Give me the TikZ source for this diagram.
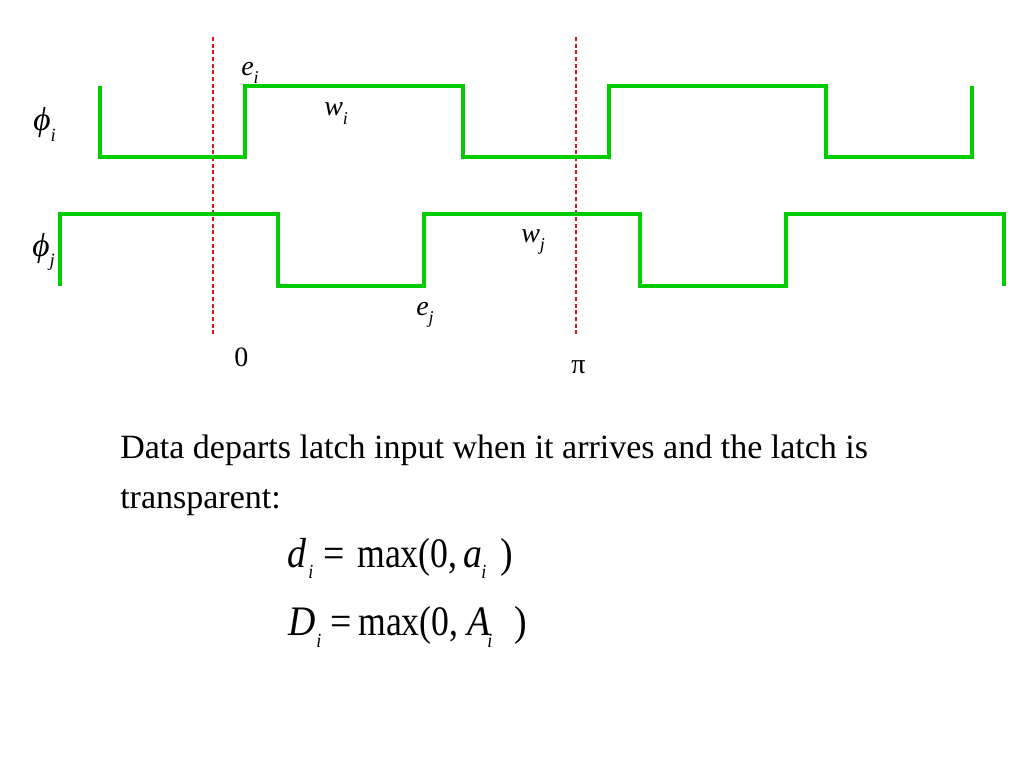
\documentclass[tikz,border=0pt]{standalone}
\usepackage{fontspec}
\usepackage{graphicx}
\setmainfont{Liberation Serif}
\newcommand\lsub[2]{\raisebox{-#1em}{\fontsize{#2}{#2}\selectfont\itshape i}}
\newcommand\jsub[2]{\raisebox{-#1em}{\fontsize{#2}{#2}\selectfont\itshape j}}
\newcommand\eqs[1]{\scalebox{0.9}[1]{#1}}
\newcommand\eqn[1]{\scalebox{0.85}[1]{#1}}
\begin{document}
\begin{tikzpicture}[x=0.75pt,y=-0.75pt,
  wave/.style={draw={rgb,255:red,0;green,204;blue,0},line width=3pt,line join=miter},
  marker/.style={draw={rgb,255:red,225;green,20;blue,20},line width=0.8pt,dash pattern=on 3pt off 2pt},
  lbl/.style={anchor=base west,inner sep=0pt,font=\fontsize{21pt}{21pt}\selectfont},
  phl/.style={anchor=base west,inner sep=0pt,font=\fontsize{25pt}{25pt}\selectfont},
  sub/.style={anchor=base west,inner sep=0pt,font=\fontsize{15pt}{15pt}\selectfont\itshape},
  body/.style={anchor=base west,inner sep=0pt,font=\fontsize{25.5pt}{25.5pt}\selectfont},
  eq/.style={anchor=base west,inner sep=0pt,font=\fontsize{31.5pt}{31.5pt}\selectfont}]
\useasboundingbox[fill=white] (0,0) rectangle (1024,768);
% dashed markers
\coordinate (z0) at (213,37); \coordinate (z1) at (213,335);
\coordinate (p0) at (576,37); \coordinate (p1) at (576,335);
\draw[marker] (z0) -- (z1);
\draw[marker] (p0) -- (p1);
% phi_i waveform
\draw[wave] (100,86) -- (100,157) -- (245,157) -- (245,86) -- (463,86) -- (463,157)
  -- (609,157) -- (609,86) -- (826,86) -- (826,157) -- (972,157) -- (972,86);
% phi_j waveform
\draw[wave] (60,286) -- (60,214) -- (278,214) -- (278,286) -- (424,286) -- (424,214)
  -- (640,214) -- (640,286) -- (786,286) -- (786,214) -- (1004,214) -- (1004,286);
% labels
\node[phl] (phii) at (33,130) {\textit{ϕ}\lsub{0.35}{14pt}};
\node[phl] (phij) at (32,256) {\textit{ϕ}\jsub{0.3}{14pt}};
\node[lbl] (ei) at (241,75) {\textit{e}\lsub{0.3}{13.5pt}};
\node[lbl] (wi) at (324,115) {\textit{w}\lsub{0.35}{13.5pt}};
\node[lbl] (wj) at (521,242) {\textit{w}\jsub{0.3}{13.5pt}};
\node[lbl] (ej) at (416,315) {\textit{e}\jsub{0.3}{13.5pt}};
\node[lbl] (zero) at (234,366) {0};
\node[lbl] (pi) at (571,373) {π};
% body text
\node[body] (t1) at (120,458) {Data departs latch input when it arrives and the latch is};
\node[body] (t2) at (120,508) {transparent:};
% equation 1
\node[eq] (d1) at (287,567) {\eqs{\textit{d}}};
\node[sub] (d1s) at (308,578) {\eqs{i}};
\node[eq] (d1e) at (323,567) {\eqs{=}};
\node[eq] (d1m) at (357,567) {\eqn{max(0,}};
\node[eq] (d1a) at (463,567) {\eqs{\textit{a}}};
\node[sub] (d1as) at (481,578) {\eqs{i}};
\node[eq] (d1p) at (500,567) {\eqs{)}};
% equation 2
\node[eq] (d2) at (288,635) {\eqs{\textit{D}}};
\node[sub] (d2s) at (316,647) {\eqs{i}};
\node[eq] (d2e) at (330,635) {\eqs{=}};
\node[eq] (d2m) at (358,635) {\eqn{max(0,}};
\node[eq] (d2a) at (467,635) {\eqs{\textit{A}}};
\node[sub] (d2as) at (487,647) {\eqs{i}};
\node[eq] (d2p) at (514,635) {\eqs{)}};
\end{tikzpicture}
\end{document}
